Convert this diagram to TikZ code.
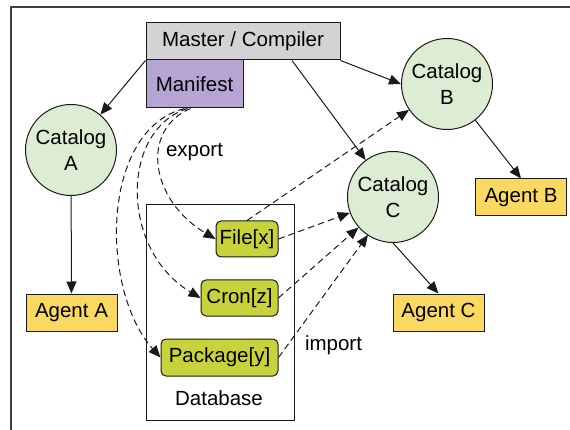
\documentclass[tikz,border=0pt]{standalone}
\usepackage{fontspec}
\setmainfont{Liberation Sans}
\usetikzlibrary{arrows.meta}
\definecolor{mastergray}{HTML}{D3D3D3}
\definecolor{manpurple}{HTML}{B6A5D2}
\definecolor{catgreen}{HTML}{DDEDD4}
\definecolor{agentyellow}{HTML}{FAD862}
\definecolor{resgreen}{HTML}{C8D33C}
\definecolor{edge}{HTML}{1A1A1A}
\begin{document}
\begin{tikzpicture}[x=1pt,y=-1pt,
  every node/.style={font=\fontsize{20.5}{26}\selectfont, text=black},
  catalog/.style={circle, draw=edge, line width=1pt, fill=catgreen, minimum size=91pt, inner sep=0pt, align=center},
  agent/.style={rectangle, draw=edge, line width=1pt, fill=agentyellow, minimum width=91pt, minimum height=37pt, inner sep=0pt},
  res/.style={rectangle, rounded corners=5pt, draw=edge, line width=1pt, fill=resgreen, minimum height=36pt, inner sep=0pt},
  conn/.style={draw=edge, line width=1pt, -{Triangle[length=12pt,width=10pt]}},
  dconn/.style={conn, dash pattern=on 6.5pt off 4pt},
  label/.style={inner sep=0pt}
]
\useasboundingbox (0,0) rectangle (570,430);
% frame (top and left lines)
\draw[line width=1.4pt, draw=black!75] (11,430) -- (11,7) -- (570,7);

% database box
\node[draw=edge, line width=1pt, minimum width=148pt, minimum height=215pt, inner sep=0pt] (db) at (220,312.5) {};
\node[label] (dblabel) at (219,398) {Database};

% master and manifest
\node[rectangle, draw=edge, line width=1pt, fill=mastergray, minimum width=194pt, minimum height=37pt, inner sep=0pt] (master) at (243,41.5) {Master / Compiler};
\node[rectangle, draw=edge, line width=1pt, fill=manpurple, minimum width=97pt, minimum height=48pt, inner sep=0pt] (manifest) at (194.5,84) {Manifest};

% catalogs
\node[catalog] (catA) at (71,150) {Catalog\\A};
\node[catalog] (catB) at (447,84) {Catalog\\B};
\node[catalog] (catC) at (393,197) {Catalog\\C};

% agents
\node[agent] (agentA) at (71.5,312.5) {Agent A};
\node[agent] (agentB) at (521,197.5) {Agent B};
\node[agent] (agentC) at (438.5,312.5) {Agent C};

% resources
\node[res, minimum width=62pt] (file) at (247,239) {File[x]};
\node[res, minimum width=77pt] (cron) at (239.5,298) {Cron[z]};
\node[res, minimum width=117pt, minimum height=37pt] (pkg) at (219.5,357.5) {Package[y]};

% labels
\node[label] (export) at (194.5,152) {export};
\node[label] (import) at (333.5,345) {import};

% coordinates on master / manifest
\coordinate (mC) at ([xshift=49pt]master.south);
\coordinate (mf1) at ([xshift=-4pt]manifest.south);
\coordinate (mf2) at ([xshift=-7pt]manifest.south);
\coordinate (mf3) at ([xshift=-10pt]manifest.south);

% solid connectors
\draw[conn] (master.south west) -- (catA);
\draw[conn] (master.south east) -- (catB.west);
\draw[conn] (mC) -- (catC);
\draw[conn] (catA) -- (agentA);
\draw[conn] (catB) -- (agentB.north);
\draw[conn] (catC.south) -- (agentC.north);

% export curves
\draw[dconn] (mf1) .. controls (140,130) and (150,200) .. (file.west);
\draw[dconn] (mf2) .. controls (120,130) and (120,250) .. (cron.west);
\draw[dconn] (mf3) .. controls (100,130) and (100,290) .. (pkg.west);

% import lines
\draw[dconn] (file.north) -- (catB);
\draw[dconn] (file.east) -- (catC);
\draw[dconn] (cron.east) -- (catC);
\draw[dconn] (pkg.east) -- ([xshift=-25pt,yshift=-38pt]catC.center);
\end{tikzpicture}
\end{document}
